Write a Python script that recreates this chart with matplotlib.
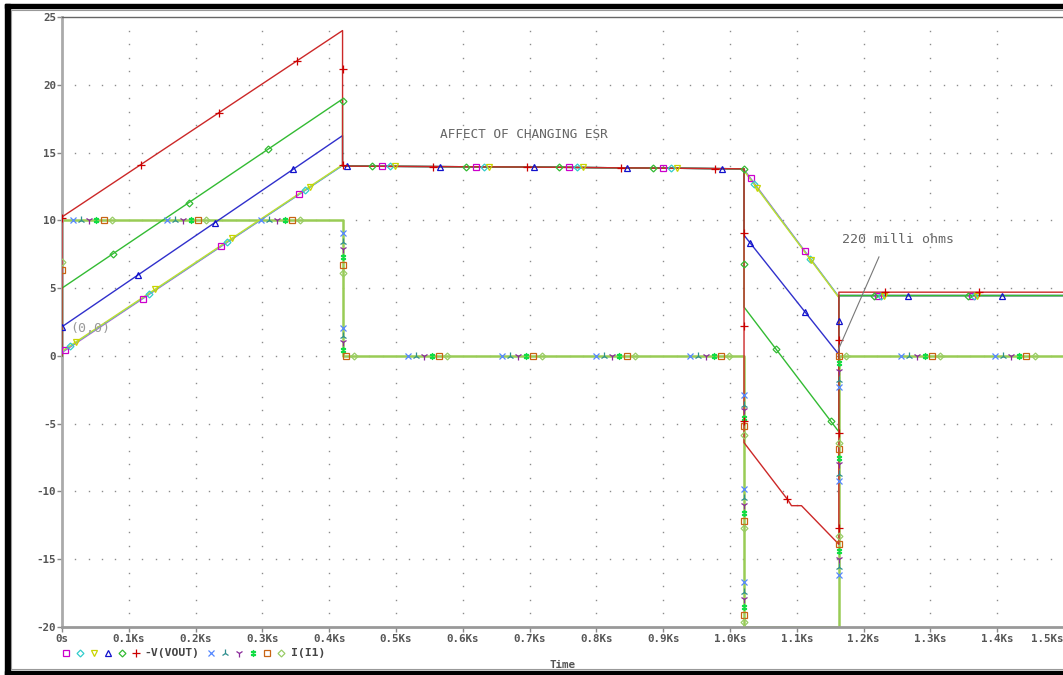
import matplotlib.pyplot as plt
import numpy as np
from matplotlib.patches import Rectangle

plt.rcParams['font.family'] = ['DejaVu Sans Mono', 'DejaVu Sans']

# time axis in Ks
x_ticks = [0.0, 0.1, 0.2, 0.3, 0.4, 0.5, 0.6, 0.7, 0.8, 0.9, 1.0, 1.1, 1.2, 1.3, 1.4, 1.5]
x_tick_labels = ['0s', '0.1Ks', '0.2Ks', '0.3Ks', '0.4Ks', '0.5Ks', '0.6Ks', '0.7Ks',
                 '0.8Ks', '0.9Ks', '1.0Ks', '1.1Ks', '1.2Ks', '1.3Ks', '1.4Ks', '1.5Ks']
y_ticks = [-20, -15, -10, -5, 0, 5, 10, 15, 20, 25]
y_tick_labels = ['-20', '-15', '-10', '-5', '0', '5', '10', '15', '20', '25']

# I(I1) - current source, identical in every run
t_i1 = [0.0, 0.0, 0.42, 0.42, 1.021, 1.021, 1.163, 1.163, 1.5]
i_i1 = [0.0, 10.0, 10.0, 0.0, 0.0, -20.0, -20.0, 0.0, 0.0]

# -V(VOUT), one trace per ESR value
t_v = [0.0, 0.0, 0.42, 0.42, 0.7, 1.021, 1.021, 1.163, 1.163, 1.5]
v_mag = [0.0, 0.25, 14.05, 14.0, 13.93, 13.8, 13.75, 4.35, 4.45, 4.45]
v_cyan = [0.0, 0.3, 14.05, 14.0, 13.93, 13.8, 13.7, 4.35, 4.45, 4.45]
v_yel = [0.0, 0.35, 14.1, 14.0, 13.93, 13.8, 13.65, 4.3, 4.45, 4.45]
v_blue = [0.0, 2.15, 16.25, 14.0, 13.93, 13.8, 8.9, 0.1, 4.45, 4.45]
v_green = [0.0, 5.0, 18.95, 14.0, 13.93, 13.8, 3.6, -5.6, 4.45, 4.45]
t_red = [0.0, 0.0, 0.42, 0.42, 0.7, 1.021, 1.021, 1.087, 1.092, 1.107, 1.163, 1.163, 1.5]
v_red = [0.0, 10.25, 24.0, 14.0, 13.93, 13.8, -6.4, -10.65, -11.05, -11.05, -13.9, 4.7, 4.7]

# symbol positions along the traces (times), plus symbols sitting on the steps
mk_mag_t = [0.005, 0.121, 0.238, 0.355, 0.479, 0.62, 0.759, 0.9, 1.031, 1.112, 1.222, 1.362]
mk_cyan_t = [0.012, 0.13, 0.247, 0.364, 0.491, 0.632, 0.771, 0.912, 1.036, 1.12, 1.226, 1.366]
mk_yel_t = [0.021, 0.139, 0.254, 0.371, 0.499, 0.639, 0.78, 0.921, 1.04, 1.121, 1.23, 1.37]
mk_blue_t = [0.114, 0.229, 0.346, 0.427, 0.566, 0.707, 0.846, 0.988, 1.03, 1.112, 1.266, 1.407]
mk_green_t = [0.076, 0.19, 0.308, 0.464, 0.605, 0.744, 0.885, 1.069, 1.151, 1.216, 1.357]
mk_red_t = [0.118, 0.235, 0.352, 0.555, 0.696, 0.837, 0.978, 1.085, 1.232, 1.373]
mk_blue_v = {0.0: [2.1], 1.163: [2.6]}
mk_green_v = {0.42: [18.8], 1.021: [13.8, 6.8]}
mk_red_v = {0.0: [10.2], 0.42: [21.2, 14.1], 1.021: [9.1, 2.2, -4.8], 1.163: [-12.7, -5.7, 1.2]}

i_group_t = [0.016, 0.157, 0.298, 0.518, 0.659, 0.799, 0.94, 1.256, 1.397]
i_offsets = [0.0, 0.0124, 0.024, 0.0355, 0.0464, 0.0589]
i_extra_t = [[], [], [], [], [0.425], [0.437, 1.174]]
i_step_v = [
    {0.42: [9.07, 2.07], 1.021: [-2.9, -9.8, -16.7], 1.163: [-16.2, -9.2, -2.3]},
    {0.42: [8.4, 1.5], 1.021: [-3.6, -10.5, -17.4], 1.163: [-15.6, -8.7, -1.8]},
    {0.42: [7.9, 1.0], 1.021: [-4.0, -11.0, -17.9], 1.163: [-15.0, -8.0, -1.1]},
    {0.42: [7.3, 0.4], 1.021: [-4.6, -11.6, -18.5], 1.163: [-14.4, -7.5, -0.5]},
    {0.0: [6.3], 0.42: [6.7], 1.021: [-5.2, -12.2, -19.1], 1.163: [-13.9, -6.9, 0.0]},
    {0.0: [6.9], 0.42: [6.1], 1.021: [-5.8, -12.7, -19.6], 1.163: [-13.3, -6.4]},
]

W, H = 1063, 675
GRAY = '#555555'

# marker styles
M_MAG = dict(marker='s', color='#cc00cc', ms=4.0)
M_CYAN = dict(marker='D', color='#33cccc', ms=3.5)
M_YEL = dict(marker='v', color='#c8d400', ms=4.4)
M_BLUE = dict(marker='^', color='#1010cc', ms=4.4)
M_GREEN = dict(marker='D', color='#33bb33', ms=3.5)
M_RED = dict(marker='+', color='#cc0000', ms=5.2)
I_STYLES = [
    dict(marker='x', color='#5588ff', ms=4.0),
    dict(marker='2', color='#2f8f8f', ms=5.5),
    dict(marker='1', color='#8a2a9a', ms=5.5),
    dict(marker=r'$\ddagger$', color='#11dd44', ms=5.0),
    dict(marker='s', color='#c86414', ms=4.0),
    dict(marker='D', color='#99cc66', ms=3.5),
]


def put_marks(ax, t, v, times, steps, style):
    xs = list(times)
    ys = list(np.interp(times, t, v))
    for ts, vals in steps.items():
        xs += [ts] * len(vals)
        ys += vals
    ax.plot(xs, ys, ls='none', mfc='none', mew=0.9, zorder=4, **style)


fig = plt.figure(figsize=(W / 100, H / 100), dpi=100)
ax = fig.add_axes([62 / W, 1 - 627 / H, (1064 - 62) / W, (627 - 17) / H])
ax.set_xlim(0, 1.5)
ax.set_ylim(-20, 25)

# dotted grid
gx, gy = np.meshgrid(np.arange(1, 15) * 0.1, [y for y in range(-19, 25) if y % 5])
ax.plot(gx.ravel(), gy.ravel(), ls='none', marker='s', ms=1.0, mew=0, color='#8c8c8c', zorder=0)
hx, hy = np.meshgrid(np.arange(1, 75) * 0.02, np.arange(-15, 25, 5))
ax.plot(hx.ravel(), hy.ravel(), ls='none', marker='s', ms=1.0, mew=0, color='#8c8c8c', zorder=0)

# current traces (all six runs coincide)
ax.plot(t_i1, i_i1, color='#99cc55', lw=1.8, zorder=2)
for style, offs, extra, steps in zip(I_STYLES, i_offsets, i_extra_t, i_step_v):
    times = [g + offs for g in i_group_t] + extra
    put_marks(ax, t_i1, i_i1, times, steps, style)

# voltage traces
ax.plot(t_v, v_mag, color='#cc44cc', lw=1.0, zorder=3)
ax.plot(t_v, v_cyan, color='#44cccc', lw=1.0, zorder=3)
ax.plot(t_v, v_yel, color='#c4dc30', lw=1.0, zorder=3)
ax.plot(t_v, v_blue, color='#3030cc', lw=1.0, zorder=3)
ax.plot(t_v, v_green, color='#33bb33', lw=1.0, zorder=3)
ax.plot(t_red, v_red, color='#cc2828', lw=1.0, zorder=3)
put_marks(ax, t_v, v_mag, mk_mag_t, {}, M_MAG)
put_marks(ax, t_v, v_cyan, mk_cyan_t, {}, M_CYAN)
put_marks(ax, t_v, v_yel, mk_yel_t, {}, M_YEL)
put_marks(ax, t_v, v_blue, mk_blue_t, mk_blue_v, M_BLUE)
put_marks(ax, t_v, v_green, mk_green_t, mk_green_v, M_GREEN)
put_marks(ax, t_red, v_red, mk_red_t, mk_red_v, M_RED)

# frame of the plot
ax.spines['right'].set_visible(False)
ax.spines['left'].set_color('#aaaaaa')
ax.spines['left'].set_linewidth(2)
ax.spines['bottom'].set_color('#999999')
ax.spines['bottom'].set_linewidth(2)
ax.spines['top'].set_color('#666666')
ax.spines['top'].set_linewidth(1)

ax.set_xticks(x_ticks)
ax.set_xticklabels(x_tick_labels, fontweight='bold', fontsize=7.8, color=GRAY)
ax.get_xticklabels()[-1].set_horizontalalignment('right')
ax.set_yticks(y_ticks)
ax.set_yticklabels(y_tick_labels, fontweight='bold', fontsize=7.8, color=GRAY)
ax.tick_params(axis='x', direction='out', length=3.6, width=1, color='#888888', pad=1.5)
ax.tick_params(axis='y', direction='out', length=3.6, width=1, color='#888888', pad=0.6)

# annotations
ax.text(0.566, 16.35, 'AFFECT OF CHANGING ESR', fontsize=9.2, color='#666666', va='center')
ax.text(1.168, 8.55, '220 milli ohms', fontsize=9.5, color='#666666', va='center')
ax.plot([1.223, 1.162], [7.3, 0.44], color='#777777', lw=0.8, zorder=5)
ax.text(0.012, 2.0, '(0,0)', fontsize=9.5, color='#999999', va='center')

# window border, legend and axis title drawn in pixel space
deco = fig.add_axes([0, 0, 1, 1], zorder=5)
deco.set_xlim(0, W)
deco.set_ylim(H, 0)
deco.axis('off')
deco.patch.set_visible(False)
deco.add_patch(Rectangle((5, 4), 5, H - 4, color='black'))
deco.add_patch(Rectangle((5, 4), W, 4, color='black'))
deco.add_patch(Rectangle((5, 671), W, 4, color='black'))
deco.plot([11, 11], [10, 669], color='#999999', lw=0.8)
deco.plot([11, W], [10, 10], color='#999999', lw=0.8)
deco.plot([11, W], [669, 669], color='#999999', lw=0.8)

legend_y = 653
for i, style in enumerate([M_MAG, M_CYAN, M_YEL, M_BLUE, M_GREEN, M_RED]):
    deco.plot([65.7 + 14 * i], [legend_y], ls='none', mfc='none', mew=0.9, **style)
deco.text(144, legend_y, '-V(VOUT)', fontsize=8.2, fontweight='bold', color='#444444', va='center')
for i, style in enumerate(I_STYLES):
    deco.plot([211 + 14 * i], [legend_y], ls='none', mfc='none', mew=0.9, **style)
deco.text(291, legend_y, 'I(I1)', fontsize=8.2, fontweight='bold', color='#444444', va='center')
deco.text(562, 665, 'Time', fontsize=7.8, fontweight='bold', color=GRAY, ha='center', va='center')

fig.savefig('out.png', dpi=100)
